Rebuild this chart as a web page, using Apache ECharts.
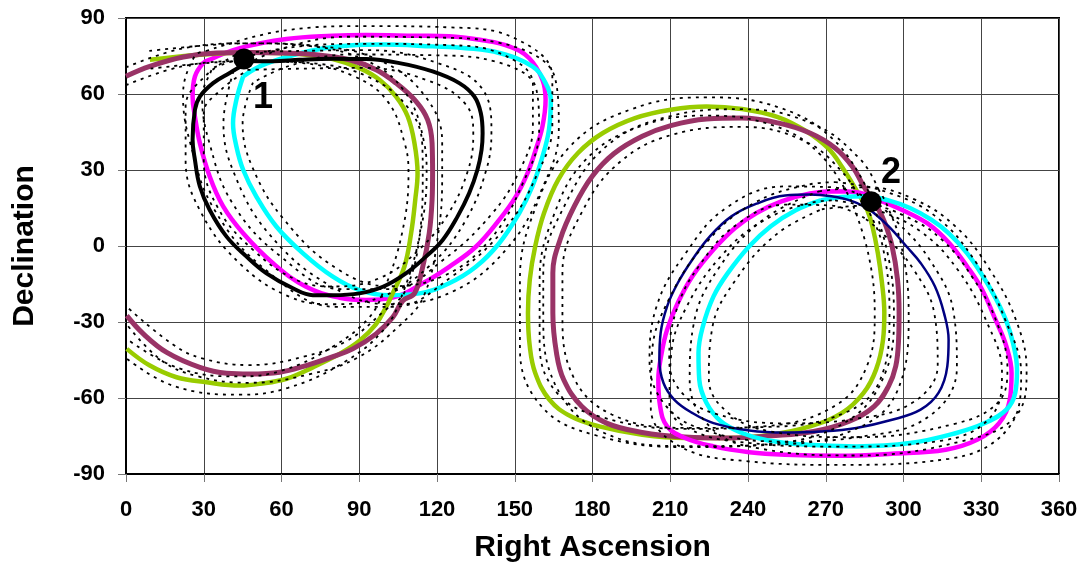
<!DOCTYPE html>
<html>
<head>
<meta charset="utf-8">
<script src="https://cdn.jsdelivr.net/npm/echarts@6/dist/echarts.min.js"></script>
<style>
    html, body { margin: 0; padding: 0; background: #fff; }
    #main { width: 1089px; height: 571px; }
</style>
</head>
<body>
<div id="main"></div>
<script>
// tick labels
var raTicks = [0, 30, 60, 90, 120, 150, 180, 210, 240, 270, 300, 330, 360];
var decTicks = [-90, -60, -30, 0, 30, 60, 90];

// marked points [ra, dec, label]
var points = [[45.5, 73.8, '1'], [287.5, 17.5, '2']];

// ---- left group ----
var blackL = [[45.6,73],[56.7,72.9],[67,73.5],[79.8,73.9],[92.6,73.8],[105.5,72.2],[118.3,68.9],[128.6,64.3],[134.4,59],[136.9,52.5],[137.6,44.5],[137.2,38],[135.6,30.1],[132.4,20.8],[127.9,11.6],[122.2,2.4],[115.7,-4.2],[108,-10.8],[99.1,-16.1],[90.1,-18.7],[79.8,-19.4],[72.1,-19.4],[64.4,-16.7],[54.2,-10.8],[46.5,-4.2],[38.8,3.7],[32.3,14.2],[28.5,23.5],[26.6,34],[25.7,41.9],[26.6,53.8],[28.5,59],[33.6,64.3],[40,68.3],[45.6,71.6]];
var magentaL = [[32.3,73.5],[43.9,78.1],[61.9,81.7],[79.8,83],[92.6,83.3],[111.9,83],[124.7,82.8],[137.6,81.2],[147.8,78.8],[155.5,74.2],[160.7,65.6],[161.9,57.7],[160.7,47.2],[158.1,38],[154.9,28.7],[150.4,19.5],[144,10.3],[135,-0.3],[124.7,-8.2],[114.5,-14.7],[102.9,-20.4],[92.6,-21.3],[82.4,-20.4],[69.5,-16.1],[56.7,-6.8],[45.2,5],[37.5,15.6],[32.3,27.4],[28.5,40.6],[26.6,51.1],[25.7,59],[26.6,66.9],[29.8,72.2],[32.3,73.5]];
var cyanL = [[45.2,66.9],[42.6,57.7],[41.3,48.5],[42.6,39.3],[45.2,30.1],[50.3,19.5],[58,7.7],[68.3,-2.9],[79.8,-12.1],[90.1,-17.4],[101.6,-19.4],[113.2,-18.7],[124.7,-14.7],[135,-8.2],[144,1.1],[151.7,12.9],[156.8,23.5],[160.7,35.3],[163.2,45.9],[163.9,57.7],[161.9,64.3],[156.8,70.9],[144,76.2],[131.1,78.1],[118.3,78.8],[99.1,79.5],[86.2,79.1],[73.4,77.5],[61.9,74.6],[51.6,70.9],[45.2,66.9]];
var greenL = [[9.2,73.5],[28.5,75.5],[47.7,76.4],[67,75.8],[79.8,73.8],[90.1,70.2],[97.8,65.6],[104.2,59],[108.7,51.1],[111.3,40.6],[112.5,28.7],[111.6,18.2],[110,5],[107.4,-8.2],[102.9,-18.7],[100.3,-24.2],[96.5,-30.8],[90.1,-37.4],[82.4,-42.6],[72.1,-47.9],[61.9,-52.4],[51.6,-54.4],[43.9,-55.1],[31.1,-53.8],[19.5,-51.8],[9.2,-47.2],[0.3,-40.6]];
var mauveL = [[0,67],[9.2,70.9],[22.1,74.6],[34.9,76.2],[47.7,76.4],[60.6,76.2],[73.4,75.5],[86.2,73.5],[96.5,69.6],[104.2,64.3],[111.9,57.1],[116.4,49.8],[118.1,40.6],[118.3,28.7],[118.1,18.2],[117,5],[114.5,-8.2],[111.3,-18.7],[106.8,-21.6],[102.9,-28.2],[96.5,-34.7],[87.5,-40.6],[78.5,-44.2],[69.5,-47.2],[59.3,-49.8],[47.7,-50.5],[38.8,-50.2],[28.5,-47.9],[15.7,-42],[6.7,-34.7],[0.3,-27.5]];

// ---- right group ----
var greenR = [[283.2,19.6],[276.3,31.2],[270.8,38.7],[262.5,45.3],[251.5,50.9],[237.7,54.1],[224,55.1],[210.2,53.8],[196.4,50.5],[184,44.6],[174.4,36.7],[166.8,26.2],[161.3,13],[157.9,-0.1],[155.8,-13.3],[155.1,-26.4],[155.8,-39.6],[157.9,-50.1],[163.4,-60.7],[171.6,-67.2],[182.6,-71.2],[199.2,-74.5],[215.7,-75.8],[232.2,-75.8],[248.8,-74.5],[263.9,-71.2],[276.3,-65.9],[284.6,-58],[289.4,-48.8],[292.1,-37],[292.6,-26.4],[291.7,-14.6],[290.1,-2.8],[288,7.8],[286,14.3],[283.2,19.6]];
var mauveR = [[287.3,19.6],[284.6,23.6],[280.4,31.2],[273.6,38.7],[263.9,44.6],[251.5,48.6],[237.7,50.5],[224,50.1],[210.2,47.5],[199.2,43.3],[188.2,36.4],[179.9,27.5],[173,15.7],[167.5,2.5],[164.7,-10.7],[164.7,-26.4],[166.1,-42.2],[168.9,-52.8],[175.8,-63.3],[185.4,-69.9],[199.2,-73.6],[215.7,-75.4],[232.2,-75.8],[248.8,-74.9],[265.3,-73.2],[279.1,-69.2],[288.7,-63.3],[294.2,-55.4],[297,-47.5],[298.1,-37],[298.3,-26.4],[297.7,-13.3],[295.6,-0.1],[292.8,9.1],[290.1,15],[287.3,19.6]];
var navyR = [[287.3,14.1],[280.4,17.6],[272.2,19.6],[263.9,20.3],[254.3,19.9],[243.3,16.7],[233.6,11.7],[225.3,3.8],[218.5,-5.4],[212.9,-14.6],[208.8,-23.8],[206.3,-34.3],[205.8,-44.9],[207.4,-54.1],[211.6,-60.7],[218.5,-65.9],[226.7,-69.9],[240.5,-72.8],[254.3,-73.6],[268,-73.2],[281.8,-71.8],[295.6,-68.6],[306.6,-64.6],[313.5,-58],[316.9,-47.5],[317.4,-37],[315.6,-26.4],[312.1,-15.9],[306.6,-6.7],[301.1,-0.1],[294.2,7.8],[287.3,14.1]];
var magentaR = [[273.6,21.6],[281.8,21.2],[290.1,18.3],[299.7,14.1],[309.4,8.8],[317.6,1.2],[324.5,-8],[330,-16.6],[335.5,-29.1],[339.7,-39.6],[341.7,-50.1],[341,-60.7],[336.9,-69.9],[328.6,-76.4],[316.3,-80.4],[295.6,-82],[274.9,-82.8],[254.3,-82.4],[240.5,-81.4],[226.7,-79.1],[215.7,-75.8],[208.8,-71.2],[206.1,-63.3],[205.4,-52.8],[206.7,-42.2],[208.8,-33],[212.9,-22.5],[218.5,-12],[226.7,-1.4],[235,7.1],[243.3,13],[252.9,17.6],[263.9,20.7],[273.6,21.6]];
var cyanR = [[268,18],[276.3,19.3],[286,19.6],[294.2,18],[302.5,15],[310.7,10.4],[317.6,4.9],[324.5,-2.8],[330,-10.9],[335.5,-20.5],[339.7,-29.7],[342.4,-38.9],[343.8,-48.8],[343.1,-58],[339.7,-64.6],[331.4,-69.9],[320.4,-73.8],[302.5,-77.8],[281.8,-79.1],[261.2,-78.4],[247.4,-76.7],[237.7,-73.8],[229.5,-69.2],[224,-62],[221.2,-52.8],[220.9,-42.2],[222.6,-31.7],[226.7,-19.9],[232.2,-10.7],[240.5,-0.1],[248.8,7.8],[258.4,14.1],[268,18]];

// ---- dotted error bounds ----
var blackOut = [[44,76.5],[67,77],[93,77.3],[120,72.3],[137.5,62],[141,45],[139,30],[131,10],[118,-7],[100,-19.5],[80,-23],[63,-20],[44,-7],[28.8,13.5],[23,34],[23,55],[30.5,67],[44,76.5]];
var blackIn = [[47,69.5],[67,70],[92,70.3],[116,65.5],[131,56],[134,44],[132,30],[124.5,13],[113,-1.5],[98,-12.6],[80,-16],[66,-13.5],[49,-1.5],[35.5,15],[30,34],[30,52.5],[36.5,61.5],[47,69.5]];
var magentaLOut = [[31,77],[62,85.2],[92.6,86.8],[125,86.3],[150,82],[164.5,67],[164.5,47.5],[158.5,28],[147,8],[126.5,-11.5],[103,-24],[81,-24],[54,-9.5],[34,14.5],[24.8,40.6],[22,59.5],[26.5,75],[31,77]];
var magentaLIn = [[34,70.5],[62,78.2],[92.6,79.8],[124.5,79.3],[145.5,75.5],[157,64],[157,47],[151.5,29],[141,12.5],[123,-5],[102.5,-17],[83,-17],[59.5,-4],[41,17],[32.2,40.6],[29.4,58.5],[33,69.5],[34,70.5]];
var cyanLOut = [[41.5,69],[37.6,48.5],[41.6,29],[55,5],[78.5,-15.5],[101.6,-23],[126,-18],[147,-1],[160.5,22.5],[167,46],[165.5,66.5],[145,80],[118.3,82.3],[86.2,82.6],[60.5,78],[41.5,69]];
var cyanLIn = [[49,64.5],[45,48.5],[48.8,31],[61,10.4],[81,-8.7],[101.6,-15.9],[123.4,-11.4],[141,3.2],[153,24.5],[159.4,45.8],[158.3,62],[143,72.7],[118.3,75.3],[86.2,75.6],[63.3,71.2],[49,64.5]];
var greenLOut = [[9,77],[28.5,79],[47.7,80],[67,79.3],[92,73.5],[107.5,61],[115,41],[116,28.7],[113.5,5],[106.5,-19.5],[99.5,-33],[84,-46],[62.5,-56],[43.9,-58.7],[18.5,-55.3],[0.3,-44.5]];
var greenLIn = [[9.5,70],[28.5,72],[47.7,73],[67,72.3],[88,67],[101,57],[107.6,40.3],[109,28.7],[106.5,5],[99.3,-18],[93.5,-28.6],[80.5,-39.3],[61.3,-48.8],[43.9,-51.5],[20.5,-48.3],[0.3,-36.7]];
var mauveLOut = [[0,70.5],[22,78],[47.7,80],[73.4,79],[98.5,73],[115.5,59],[122,41],[122,28.7],[120.5,5],[115,-19.5],[106,-31],[89.5,-44],[70.5,-50.7],[47.7,-54],[27.5,-51.4],[13.5,-45],[0.3,-31]];
var mauveLIn = [[0,63.5],[22.2,71],[47.7,73],[73.4,72],[94,66.5],[108.5,55],[114.3,40.3],[114.5,28.7],[113.4,5],[107.7,-17.8],[99.8,-25.5],[85.5,-37.3],[68.5,-43.7],[47.7,-47],[29.5,-44.4],[18,-38.8],[0.3,-24]];
var greenROut = [[286.5,21.5],[273.5,41.5],[252.5,54.5],[224,58.7],[195,54],[171.5,39.5],[157.6,14],[152,-13.3],[152,-40.5],[160.5,-63.5],[181.5,-74.8],[215.7,-79.4],[249.5,-78],[278.5,-69],[293,-50],[296.3,-26.5],[293.8,-2.5],[286.5,21.5]];
var greenRIn = [[280,17.5],[268,36],[250.5,47.3],[224,51.5],[197.8,47],[177.3,34],[165,12],[159.6,-13.3],[159.6,-38.7],[166.3,-58],[183.7,-67.6],[215.7,-72.2],[248,-71],[274,-62.8],[285.8,-47.6],[288.9,-26.3],[286.4,-3],[280,17.5]];
var mauveROut = [[290.5,22],[283.5,34],[265.5,48],[237.7,54],[209,51],[185.5,39.5],[169.5,16.5],[161,-10.7],[161,-26.5],[165.5,-54.5],[183.5,-73.3],[215.7,-79],[249.5,-78.5],[281,-72.5],[297.5,-57.5],[302,-26.4],[299.2,0],[293.5,16.5],[290.5,22]];
var mauveRIn = [[284,17],[277,28.5],[262,41.3],[237.7,47],[211,44],[191,33.5],[176.5,14.5],[168.4,-10.7],[168.4,-26.3],[172.3,-51],[187.4,-66.5],[215.7,-71.8],[248,-71.4],[277,-66],[290.8,-53.3],[294.6,-26.4],[292,-0.3],[286.7,13.5],[284,17]];
var navyROut = [[289.5,17.3],[272.5,23.2],[254,23.5],[231.5,15],[215.5,-3.5],[205,-23],[202,-45],[208.5,-63.3],[225.5,-73.4],[254.3,-77.2],[282.5,-75.4],[309.5,-67.5],[320.6,-48],[319.3,-26],[309.5,-4.5],[296.6,10.5],[289.5,17.3]];
var navyRIn = [[285,11],[272,16],[254.5,16.3],[235.7,8.5],[221.5,-7.3],[212.6,-24.6],[209.6,-44.8],[214.7,-58.2],[228,-66.4],[254.3,-70],[281,-68.3],[303.7,-61.7],[313.2,-47],[311.9,-26.7],[303.7,-9],[291.8,5.1],[285,11]];
var magentaROut = [[273.6,25.2],[291.5,22],[312,12],[328,-6.5],[339,-28.5],[345.4,-50.5],[340,-72.5],[317.5,-84],[274.9,-86.4],[240,-85],[213.5,-79],[202.5,-64],[203,-42],[209.5,-21],[223.8,1.2],[241.5,16.5],[263.5,24.3],[273.6,25.2]];
var magentaRIn = [[273.6,18],[288.7,14.6],[306.8,5.6],[321,-9.5],[332,-29.7],[338,-49.7],[333.8,-67.3],[315,-76.8],[274.9,-79.2],[241,-77.8],[218,-72.6],[209.7,-62.6],[210.4,-42.4],[216.3,-24],[229.6,-4],[245.1,9.5],[264.3,17.1],[273.6,18]];
var cyanROut = [[267.5,21.6],[286,23.2],[304,18.5],[320.3,7.5],[333.3,-9.3],[343.5,-29.5],[347.5,-49],[343,-67.5],[321.5,-77.3],[281.8,-82.7],[246,-80.2],[226.5,-72.5],[217.5,-53],[219,-31],[229,-8.3],[246.5,10.9],[267.5,21.6]];
var cyanRIn = [[268.5,14.5],[286,16],[301,11.6],[315,2.3],[326.7,-12.5],[335.9,-29.9],[340.1,-48.6],[336.4,-61.8],[319.3,-70.3],[281.8,-75.5],[248.8,-73.2],[232.5,-66],[224.9,-52.6],[226.2,-32.4],[235.5,-13],[251.2,4.8],[268.5,14.5]];

var solidLines = [
    {data: magentaL, color: '#ff00ff', width: 4.5},
    {data: cyanL, color: '#00ffff', width: 4.5},
    {data: greenL, color: '#99cc00', width: 4.5},
    {data: mauveL, color: '#993366', width: 5},
    {data: blackL, color: '#000000', width: 4},
    {data: greenR, color: '#99cc00', width: 4.5},
    {data: mauveR, color: '#993366', width: 5},
    {data: magentaR, color: '#ff00ff', width: 4.5},
    {data: cyanR, color: '#00ffff', width: 4.5},
    {data: navyR, color: '#000080', width: 2.5}
];
var dottedLines = [blackOut, blackIn, magentaLOut, magentaLIn, cyanLOut, cyanLIn, greenLOut, greenLIn,
    mauveLOut, mauveLIn, greenROut, greenRIn, mauveROut, mauveRIn, navyROut, navyRIn,
    magentaROut, magentaRIn, cyanROut, cyanRIn];

var series = [];
solidLines.forEach(function (s) {
    series.push({
        type: 'line',
        data: s.data,
        smooth: 0.4,
        showSymbol: false,
        silent: true,
        lineStyle: {color: s.color, width: s.width},
        z: 2
    });
});
dottedLines.forEach(function (d) {
    series.push({
        type: 'line',
        data: d,
        smooth: 0.4,
        showSymbol: false,
        silent: true,
        lineStyle: {color: '#000', width: 1.8, type: [3, 5]},
        z: 3
    });
});
series.push({
    type: 'scatter',
    data: points.map(function (p) { return [p[0], p[1]]; }),
    symbolSize: 21,
    itemStyle: {color: '#000', opacity: 1},
    label: {
        show: true,
        formatter: function (params) { return points[params.dataIndex][2]; },
        fontFamily: 'Liberation Sans',
        fontWeight: 'bold',
        fontSize: 36,
        color: '#000',
        position: 'inside'
    },
    labelLayout: function (params) {
        var off = params.dataIndex === 0 ? [19, 39] : [20, -29];
        return {
            x: params.rect.x + params.rect.width / 2 + off[0],
            y: params.rect.y + params.rect.height / 2 + off[1],
            align: 'center',
            verticalAlign: 'middle'
        };
    },
    z: 5
});

var myChart = echarts.init(document.getElementById('main'), null, {renderer: 'canvas'});
var labelFont = {fontFamily: 'Liberation Sans', fontWeight: 'bold', fontSize: 22, color: '#000'};
var option = {
    animation: false,
    backgroundColor: '#fff',
    grid: {
        left: 126, right: 30, top: 18, bottom: 97,
        show: true, borderColor: '#000', borderWidth: 2
    },
    xAxis: {
        type: 'value',
        min: 0, max: 360, interval: 30,
        name: 'Right Ascension',
        nameLocation: 'middle',
        nameGap: 59,
        nameTextStyle: {fontFamily: 'Liberation Sans', fontWeight: 'bold', fontSize: 30, color: '#000'},
        axisLine: {show: true, onZero: false, lineStyle: {color: '#000', width: 2}},
        axisTick: {show: true, length: 8, lineStyle: {color: '#777', width: 1}},
        axisLabel: Object.assign({margin: 25, formatter: function (v) { return raTicks.indexOf(v) >= 0 ? String(v) : ''; }}, labelFont),
        splitLine: {show: true, lineStyle: {color: '#444', width: 1}}
    },
    yAxis: {
        type: 'value',
        min: -90, max: 90, interval: 30,
        name: 'Declination',
        nameLocation: 'middle',
        nameGap: 86,
        nameTextStyle: {fontFamily: 'Liberation Sans', fontWeight: 'bold', fontSize: 30, color: '#000'},
        axisLine: {show: true, onZero: false, lineStyle: {color: '#000', width: 2}},
        axisTick: {show: true, length: 8, lineStyle: {color: '#777', width: 1}},
        axisLabel: Object.assign({margin: 21, formatter: function (v) { return decTicks.indexOf(v) >= 0 ? String(v) : ''; }}, labelFont),
        splitLine: {show: true, lineStyle: {color: '#444', width: 1}}
    },
    series: series
};
myChart.setOption(option);
</script>
</body>
</html>
